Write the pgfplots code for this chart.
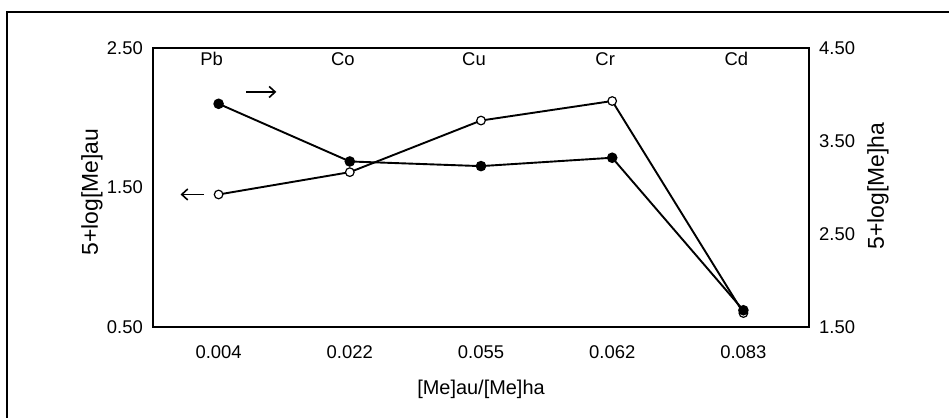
\documentclass[border=0pt]{standalone}
\usepackage{pgfplots}
\pgfplotsset{compat=1.18}
\usepackage{fontspec}
\setmainfont{Liberation Sans}
\usetikzlibrary{arrows.meta}
\begin{document}
\begin{tikzpicture}
\useasboundingbox (0,0) rectangle (949bp,-418bp);
\fill[white] (0,0) rectangle (949bp,-418bp);
\draw[line width=1.6bp] (7bp,-418bp) -- (7bp,-12bp) -- (949bp,-12bp);
\begin{axis}[
  at={(153bp,-327bp)}, anchor=south west,
  scale only axis, width=656bp, height=279bp,
  xmin=-0.5, xmax=4.5, ymin=0.5, ymax=2.5,
  xtick={0,1,2,3,4}, xticklabels={0.004,0.022,0.055,0.062,0.083},
  ytick={0.5,1.5,2.5}, yticklabels={0.50,1.50,2.50},
  major tick length=0pt,
  axis line style={line width=1.6bp},
  /pgf/number format/assume math mode=true,
  tick label style={font=\fontsize{18.5}{21}\selectfont, inner sep=0pt},
  x tick label style={anchor=center, yshift=-25.5bp},
  y tick label style={anchor=east, xshift=-10bp},
  xlabel={[Me]au/[Me]ha},
  xlabel style={font=\fontsize{20}{23}\selectfont, at={(axis description cs:0.5,-0.224)}, anchor=center, inner sep=0pt},
  ylabel={5+log[Me]au},
  ylabel style={font=\fontsize{23}{26}\selectfont, at={(axis description cs:-0.093,0.484)}, anchor=center, rotate=0, inner sep=0pt},
  clip=false,
]
\addplot[black, line width=1.9bp, mark=*, mark size=4.3bp, mark options={fill=white, line width=1.2bp}] coordinates {
  (0,1.45) (1,1.61) (2,1.98) (3,2.12) (4,0.60)
};
\foreach \i/\n in {0/Pb,1/Co,2/Cu,3/Cr,4/Cd} {
  \edef\tmp{\noexpand\node[font=\noexpand\fontsize{18.5}{21}\noexpand\selectfont, inner sep=0pt] at ([xshift=-7bp]axis cs:\i,2.42) {\n};}
  \tmp
}
\draw[line width=1.6bp, -{Straight Barb[length=6bp,width=11bp]}] (axis cs:0.21,2.185) -- (axis cs:0.44,2.185);
\draw[line width=1.6bp, -{Straight Barb[length=6bp,width=11bp]}] (axis cs:-0.11,1.45) -- (axis cs:-0.29,1.45);
\end{axis}
\begin{axis}[
  at={(153bp,-327bp)}, anchor=south west,
  scale only axis, width=656bp, height=279bp,
  xmin=-0.5, xmax=4.5, ymin=1.5, ymax=4.5,
  axis x line=none, axis y line*=right,
  ytick={1.5,2.5,3.5,4.5}, yticklabels={1.50,2.50,3.50,4.50},
  major tick length=0pt,
  axis line style={line width=1.6bp},
  /pgf/number format/assume math mode=true,
  tick label style={font=\fontsize{18.5}{21}\selectfont, inner sep=0pt},
  y tick label style={anchor=west, xshift=10bp},
  ylabel={5+log[Me]ha},
  ylabel style={font=\fontsize{23}{26}\selectfont, at={(axis description cs:1.105,0.505)}, anchor=center, rotate=0, inner sep=0pt},
  clip=false,
]
\addplot[black, line width=1.9bp, mark=*, mark size=4.3bp, mark options={fill=black}] coordinates {
  (0,3.90) (1,3.28) (2,3.23) (3,3.32) (4,1.68)
};
\end{axis}
\end{tikzpicture}
\end{document}
